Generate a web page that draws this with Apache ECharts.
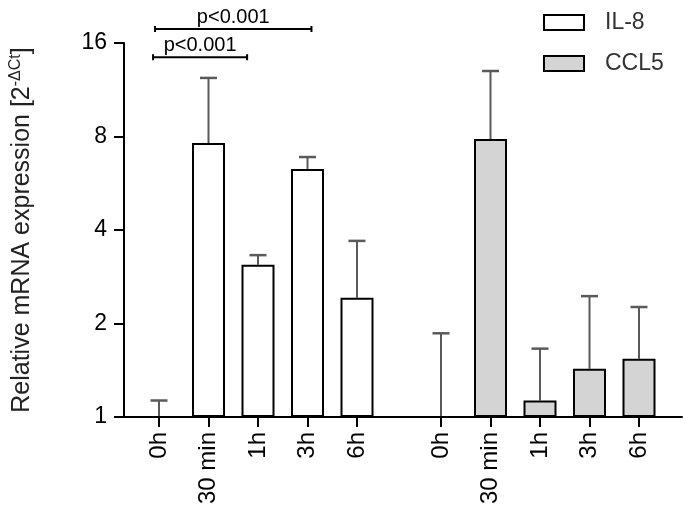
<!DOCTYPE html>
<html><head><meta charset="utf-8">
<script src="https://cdn.jsdelivr.net/npm/echarts@6/dist/echarts.min.js"></script>
<style>html,body{margin:0;padding:0;background:#fff}#c{width:685px;height:511px}</style>
</head><body><div id="c"></div>
<script>
const categories = ['0h', '30 min', '1h', '3h', '6h'];
const seriesNames = ['IL-8', 'CCL5'];
const il8Mean = [1.0, 7.62, 3.09, 6.29, 2.42];
const il8Upper = [1.13, 12.35, 3.32, 6.87, 3.69];
const ccl5Mean = [1.0, 7.85, 1.13, 1.43, 1.54];
const ccl5Upper = [1.86, 13.0, 1.66, 2.45, 2.26];
const yMin = 1, yMax = 16;
const sigLabels = ['p<0.001', 'p<0.001'];
const sigFrom = [-0.12, -0.08];
const sigTo = [1.78, 3.08];
const sigLevel = [14.4, 17.75];

const FONT = "'Liberation Sans', Arial, sans-serif";
const ERR = '#5a5a5a';

function errRender(params, api) {
  const x = api.value(0), m = api.value(1), u = api.value(2);
  const p0 = api.coord([x, m]), p1 = api.coord([x, u]);
  const half = 8.5;
  return {type: 'group', children: [
    {type: 'line', shape: {x1: p0[0], y1: p0[1], x2: p1[0], y2: p1[1]}, style: {stroke: ERR, lineWidth: 2}},
    {type: 'line', shape: {x1: p1[0] - half, y1: p1[1], x2: p1[0] + half, y2: p1[1]}, style: {stroke: ERR, lineWidth: 2.5}}
  ]};
}
function catPos(api, v, y) {
  const base = Math.round(v);
  const p = api.coord([base, y]);
  const band = api.size([1, 0])[0];
  return [p[0] + (v - base) * band, p[1]];
}
function sigRender(params, api) {
  const a = api.value(0), b = api.value(1), y = api.value(2);
  const p0 = catPos(api, a, y), p1 = catPos(api, b, y);
  const cx = (p0[0] + p1[0]) / 2;
  return {type: 'group', children: [
    {type: 'line', shape: {x1: p0[0], y1: p0[1], x2: p1[0], y2: p1[1]}, style: {stroke: '#000', lineWidth: 2}},
    {type: 'line', shape: {x1: p0[0], y1: p0[1] - 3, x2: p0[0], y2: p0[1] + 3}, style: {stroke: '#000', lineWidth: 2}},
    {type: 'line', shape: {x1: p1[0], y1: p1[1] - 3, x2: p1[0], y2: p1[1] + 3}, style: {stroke: '#000', lineWidth: 2}},
    {type: 'text', style: {text: sigLabels[params.dataIndex], x: cx, y: p0[1] - 2, textAlign: 'center', textVerticalAlign: 'bottom', fontSize: 20, fontFamily: FONT, fill: '#000'}}
  ]};
}

const hiddenLogY = (gi) => ({gridIndex: gi, type: 'log', logBase: 2, min: yMin, max: yMax, show: false});
const catX = (gi) => ({
  gridIndex: gi, type: 'category', data: categories,
  axisLine: {show: false},
  axisTick: {show: true, alignWithLabel: true, length: 10, lineStyle: {color: '#000', width: 2}},
  axisLabel: {rotate: 90, fontSize: 24, color: '#000', margin: 15, fontFamily: FONT}
});

const chart = echarts.init(document.getElementById('c'));
chart.setOption({
  animation: false,
  backgroundColor: '#fff',
  textStyle: {fontFamily: FONT},
  legend: {
    data: seriesNames, orient: 'vertical', left: 538, top: 6, icon: 'rect',
    itemWidth: 40, itemHeight: 15, itemGap: 18,
    itemStyle: {borderColor: '#000', borderWidth: 2},
    textStyle: {fontSize: 23, color: '#333', padding: [0, 0, 0, 16], fontFamily: FONT}
  },
  grid: [
    {left: 117, top: 43, width: 565, height: 374},
    {left: 134.25, top: 43, width: 247.5, height: 374},
    {left: 416.25, top: 43, width: 247.5, height: 374}
  ],
  xAxis: [
    {gridIndex: 0, type: 'value', min: 0, max: 1, axisLine: {show: true, onZero: false, lineStyle: {color: '#000', width: 2}}, axisTick: {show: false}, axisLabel: {show: false}, splitLine: {show: false}},
    catX(1), catX(2)
  ],
  yAxis: [
    {gridIndex: 0, type: 'log', logBase: 2, min: yMin, max: yMax, splitNumber: 4,
     axisLine: {show: true, lineStyle: {color: '#000', width: 2}},
     axisTick: {show: true, length: 10, lineStyle: {color: '#000', width: 2}},
     axisLabel: {fontSize: 23, color: '#000', margin: 17, fontFamily: FONT},
     splitLine: {show: false},
     name: '{a|Relative mRNA expression [2}{s|-ΔCt}{a|]}',
     nameLocation: 'middle', nameGap: 88,
     nameTextStyle: {color: '#000', rich: {
       a: {fontSize: 25, lineHeight: 28, fontFamily: FONT, color: '#222'},
       s: {fontSize: 16, lineHeight: 16, verticalAlign: 'top', fontFamily: FONT, color: '#222'}
     }}},
    hiddenLogY(1), hiddenLogY(2)
  ],
  series: [
    {name: 'IL-8', type: 'bar', xAxisIndex: 1, yAxisIndex: 1, data: il8Mean, barWidth: 33,
     itemStyle: {color: '#ffffff', borderColor: '#000', borderWidth: 2}},
    {name: 'CCL5', type: 'bar', xAxisIndex: 2, yAxisIndex: 2, data: ccl5Mean, barWidth: 33,
     itemStyle: {color: '#d4d4d4', borderColor: '#000', borderWidth: 2}},
    {type: 'custom', xAxisIndex: 1, yAxisIndex: 1, z: 1, renderItem: errRender,
     encode: {x: 0, y: [1, 2]},
     data: il8Mean.map((m, i) => [i, m, il8Upper[i]])},
    {type: 'custom', xAxisIndex: 2, yAxisIndex: 2, z: 1, renderItem: errRender,
     encode: {x: 0, y: [1, 2]},
     data: ccl5Mean.map((m, i) => [i, m, ccl5Upper[i]])},
    {type: 'custom', xAxisIndex: 1, yAxisIndex: 1, clip: false, renderItem: sigRender,
     encode: {x: [0, 1], y: 2},
     data: sigLabels.map((l, i) => [sigFrom[i], sigTo[i], sigLevel[i]])}
  ]
});
</script></body></html>
